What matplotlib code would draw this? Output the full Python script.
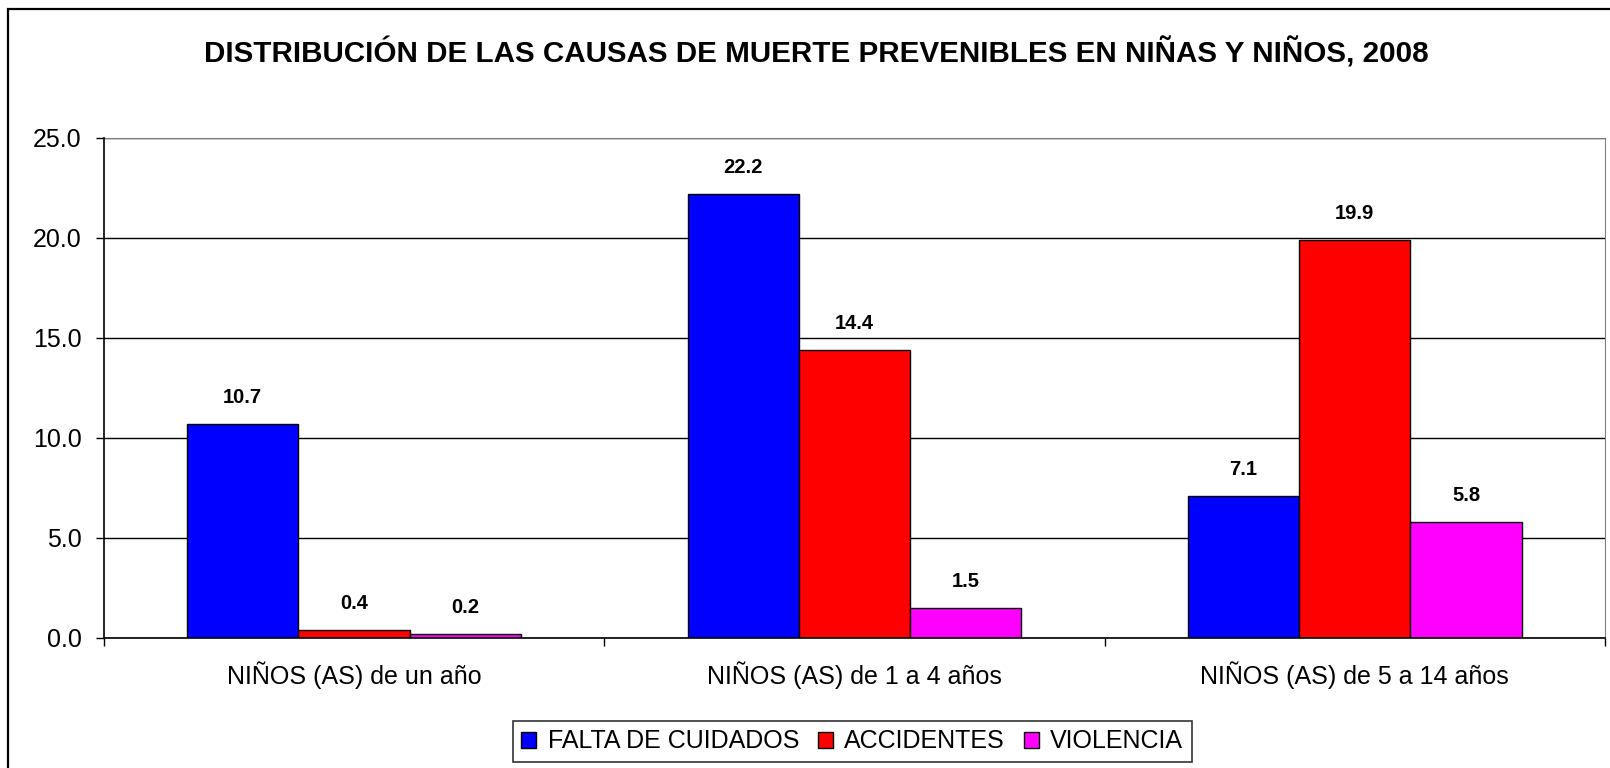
import matplotlib
matplotlib.use("Agg")
import matplotlib.pyplot as plt
import numpy as np
from matplotlib.patches import Rectangle

plt.rcParams['font.family'] = ['Liberation Sans', 'DejaVu Sans']

# ==== datos ====
categorias = ["NIÑOS (AS) de un año", "NIÑOS (AS) de 1 a 4 años", "NIÑOS (AS) de 5 a 14 años"]
series = ["FALTA DE CUIDADOS", "ACCIDENTES", "VIOLENCIA"]
falta_cuidados = [10.7, 22.2, 7.1]
accidentes = [0.4, 14.4, 19.9]
violencia = [0.2, 1.5, 5.8]
colores = ["#0000FF", "#FF0000", "#FF00FF"]
y_ticks = [0.0, 5.0, 10.0, 15.0, 20.0, 25.0]

titulo = "DISTRIBUCIÓN DE LAS CAUSAS DE MUERTE PREVENIBLES EN NIÑAS Y NIÑOS, 2008"

fig = plt.figure(figsize=(16.1, 7.68), dpi=100)
ax = fig.add_axes([0.0644, 0.1693, 0.9325, 0.6515])

# marco exterior del gráfico (sale por la derecha y por abajo)
fig.patches.append(Rectangle((8 / 1610, -0.1), 1.2, 1 - 9 / 768 + 0.1,
                             transform=fig.transFigure, fill=False,
                             edgecolor="black", linewidth=1.6, zorder=0))

x = np.arange(len(categorias))
w = 1 / 4.5  # ancho de separación 150%
for i, (vals, nombre) in enumerate(zip([falta_cuidados, accidentes, violencia], series)):
    barras = ax.bar(x + (i - 1) * w, vals, width=w, color=colores[i],
                    edgecolor="black", linewidth=1, label=nombre, zorder=3)
    ax.bar_label(barras, labels=[f"{v:.1f}" for v in vals], padding=12,
                 fontsize=14.5, fontweight="bold")

ax.set_xlim(-0.5, len(categorias) - 0.5)
ax.set_ylim(0, 25)
ax.set_yticks(y_ticks)
ax.set_yticklabels([f"{t:.1f}" for t in y_ticks], fontsize=18)
ax.set_xticks(x)
ax.set_xticklabels(categorias, fontsize=18)
ax.tick_params(axis="x", length=0, pad=17)
ax.set_xticks(np.arange(-0.5, len(categorias)), minor=True)
ax.tick_params(axis="x", which="minor", length=6, width=1, direction="out")
ax.tick_params(axis="y", length=6, width=1, direction="out", pad=10)

ax.yaxis.grid(True, color="black", linewidth=1)
ax.set_axisbelow(True)
for lado in ["top", "right"]:
    ax.spines[lado].set_color("#808080")
for lado in ["left", "bottom"]:
    ax.spines[lado].set_color("black")
    ax.spines[lado].set_linewidth(1.2)
    ax.spines[lado].set_zorder(4)

fig.text(816 / 1610, 1 - 53 / 768, titulo, ha="center", va="center",
         fontsize=21.3, fontweight="bold")

leg = fig.legend(loc="center", bbox_to_anchor=(852 / 1610, 1 - 741.5 / 768), ncol=3,
                 fontsize=18, frameon=True, fancybox=False, edgecolor="black",
                 handlelength=0.6, handleheight=0.6, handletextpad=0.45,
                 columnspacing=0.75, borderpad=0.35, borderaxespad=0)
leg.get_frame().set_linewidth(1.2)

fig.savefig("out.png", dpi=100)
